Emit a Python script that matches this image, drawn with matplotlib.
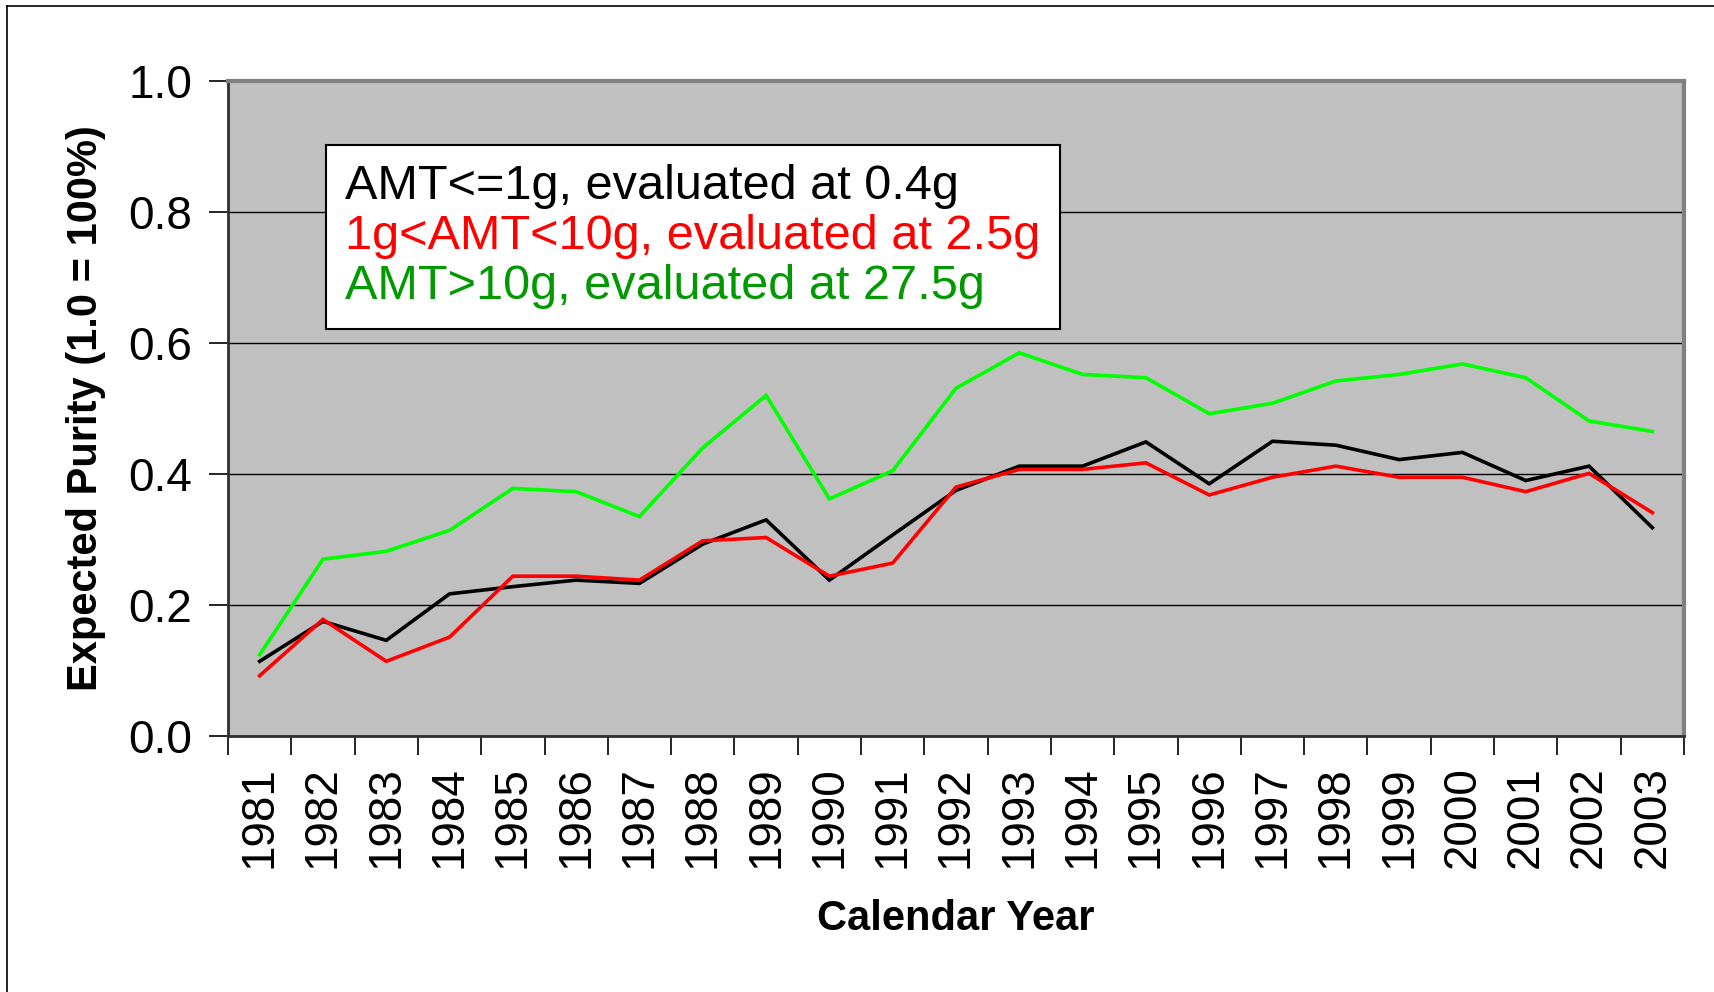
"""Expected purity by calendar year, three amount bands."""

import matplotlib
matplotlib.use("Agg")
from matplotlib import pyplot as plt
from matplotlib.lines import Line2D

years = [str(y) for y in range(1981, 2004)]
small_amt = [0.114, 0.175, 0.146, 0.217, 0.228, 0.238, 0.233, 0.293, 0.330, 0.238,
             0.307, 0.375, 0.412, 0.412, 0.449, 0.385, 0.450, 0.444, 0.422, 0.433,
             0.390, 0.412, 0.318]
mid_amt = [0.092, 0.178, 0.114, 0.151, 0.244, 0.244, 0.238, 0.298, 0.303, 0.244,
           0.264, 0.380, 0.407, 0.407, 0.417, 0.368, 0.395, 0.412, 0.395, 0.395,
           0.373, 0.401, 0.341]
large_amt = [0.124, 0.270, 0.282, 0.314, 0.378, 0.373, 0.335, 0.440, 0.520, 0.362,
             0.405, 0.531, 0.585, 0.552, 0.547, 0.492, 0.508, 0.542, 0.552, 0.568,
             0.547, 0.481, 0.465]
labels = ["AMT<=1g, evaluated at 0.4g",
          "1g<AMT<10g, evaluated at 2.5g",
          "AMT>10g, evaluated at 27.5g"]
line_colors = ["#000000", "#ff0000", "#00ff00"]
text_colors = ["#000000", "#ff0000", "#009900"]

plt.rcParams['font.family'] = ['Liberation Sans', 'DejaVu Sans']

W, H = 1715, 992
fig = plt.figure(figsize=(W / 100, H / 100), dpi=100)
ax = fig.add_axes([228 / W, 1 - 736 / H, (1684 - 228) / W, (736 - 81) / H])
ax.set_facecolor("#c0c0c0")

x = list(range(len(years)))
for vals, col, lab in zip([small_amt, mid_amt, large_amt], line_colors, labels):
    ax.plot(x, vals, color=col, lw=2.6, label=lab, solid_joinstyle='miter', zorder=3)

ax.set_xlim(-0.5, len(years) - 0.5)
ax.set_ylim(0, 1.0)
ax.set_yticks([0.0, 0.2, 0.4, 0.6, 0.8, 1.0])
ax.set_yticklabels(["0.0", "0.2", "0.4", "0.6", "0.8", "1.0"])
ax.yaxis.grid(True, color="black", lw=1.0)
ax.set_axisbelow(True)

ax.set_xticks(x)
ax.set_xticklabels(years, rotation=90)
ax.set_xticks([i - 0.5 for i in range(len(years) + 1)], minor=True)
ax.tick_params(axis='x', which='major', length=0, pad=22, labelsize=33)
ax.tick_params(axis='x', which='minor', length=14, width=1.2, direction='out')
ax.tick_params(axis='y', length=14, width=1.2, direction='out', pad=12, labelsize=33)

for side in ['top', 'right']:
    ax.spines[side].set_color("#808080")
    ax.spines[side].set_linewidth(3)
for side in ['left', 'bottom']:
    ax.spines[side].set_color("#303030")
    ax.spines[side].set_linewidth(2)

ax.set_ylabel("Expected Purity (1.0 = 100%)", fontsize=30, fontweight='bold', labelpad=16)
ax.set_xlabel("Calendar Year", fontsize=30, fontweight='bold', labelpad=22)

leg = ax.legend(loc='upper left', bbox_to_anchor=((326 - 228) / 1456, (736 - 145) / 655),
                fontsize=35, handlelength=0, handletextpad=0, borderpad=0.4,
                labelspacing=0.1, fancybox=False, framealpha=1, edgecolor='black',
                borderaxespad=0)
leg.get_frame().set_linewidth(1.5)
for h in leg.legend_handles:
    h.set_visible(False)
for txt, col in zip(leg.get_texts(), text_colors):
    txt.set_color(col)

# outer frame of the chart area (left and top edges visible)
fig.add_artist(Line2D([7 / W, 7 / W], [0, 1 - 6 / H], color='black', lw=1.2))
fig.add_artist(Line2D([7 / W, 1], [1 - 6 / H, 1 - 6 / H], color='black', lw=1.2))

fig.savefig("out.png", dpi=100)
